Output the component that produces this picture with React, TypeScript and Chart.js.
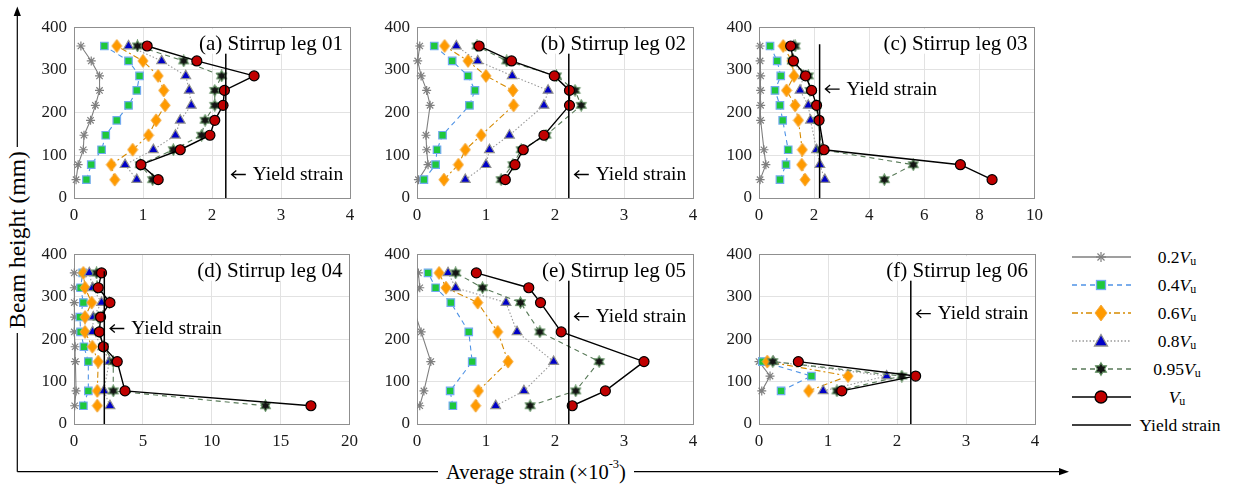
import React, { useEffect, useRef } from 'react';
import { Chart, registerables } from 'chart.js';

Chart.register(...registerables);

// ---------------- DATA ----------------
const HEIGHTS = [43, 78, 113, 147, 182, 217, 252, 286, 321, 356]; // mm, bottom to top
const SERIES_NAMES = ['0.2', '0.4', '0.6', '0.8', '0.95', ''];
const YIELD_STRAIN = 2.2;
const YIELD_TOP = 360;

// (a) Stirrup leg 01
const a_02 = [0.03, 0.06, 0.135, 0.145, 0.24, 0.31, 0.37, 0.37, 0.25, 0.1];
const a_04 = [0.18, 0.25, 0.4, 0.46, 0.62, 0.79, 0.91, 0.95, 0.79, 0.44];
const a_06 = [0.59, 0.54, 0.85, 1.08, 1.19, 1.32, 1.3, 1.22, 1.0, 0.62];
const a_08 = [0.91, 0.74, 1.15, 1.47, 1.54, 1.7, 1.67, 1.62, 1.27, 0.79];
const a_095 = [1.14, 0.96, 1.44, 1.85, 1.9, 2.04, 2.04, 2.14, 1.59, 0.92];
const a_vu = [1.22, 0.97, 1.54, 1.97, 2.04, 2.16, 2.18, 2.61, 1.78, 1.06];

// (b) Stirrup leg 02
const b_02 = [0.02, 0.16, 0.14, 0.13, null, 0.19, 0.14, 0.06, 0.01, 0.04];
const b_04 = [0.1, 0.27, 0.29, 0.37, null, 0.76, 0.84, 0.74, 0.51, 0.25];
const b_06 = [0.39, 0.6, 0.7, 0.93, null, 1.4, 1.39, 1.0, 0.74, 0.4];
const b_08 = [0.7, 1.0, 1.05, 1.34, null, 1.84, 1.9, 1.38, 0.88, 0.57];
const b_095 = [1.22, 1.39, 1.51, 1.87, null, 2.38, 2.29, 2.02, 1.3, 0.87];
const b_vu = [1.28, 1.42, 1.54, 1.84, null, 2.21, 2.21, 1.99, 1.37, 0.9];

// (c) Stirrup leg 03
const c_02 = [0.04, 0.25, 0.18, null, 0.06, 0.06, 0.06, 0.06, 0.04, 0.04];
const c_04 = [0.76, 0.98, 1.06, null, 0.86, 0.76, 0.58, 0.79, 0.66, 0.4];
const c_06 = [1.67, 1.55, 1.57, null, 1.43, 1.31, 1.0, 1.27, 1.19, 0.88];
const c_08 = [2.39, 2.21, 2.09, null, 1.87, 1.79, 1.49, 1.61, 1.22, 1.25];
const c_095 = [4.55, 5.6, 2.27, null, 2.15, 2.07, 1.85, 1.79, 1.21, 1.31];
const c_vu = [8.46, 7.31, 2.36, null, 2.18, 2.09, 1.91, 1.69, 1.25, 1.15];

// (d) Stirrup leg 04
const d_02 = [0.05, 0.15, null, 0.1, 0.08, 0.02, 0.05, 0.02, 0.02, 0.02];
const d_04 = [0.68, 1.04, null, 1.04, 0.72, 0.48, 0.43, 0.68, 0.48, 0.63];
const d_06 = [1.69, 1.69, null, 1.76, 1.33, 0.8, 0.8, 1.28, 0.8, 0.68];
const d_08 = [2.61, 2.17, null, 2.56, 2.08, 1.35, 1.4, 2.0, 1.35, 1.11];
const d_095 = [13.9, 2.85, null, 2.85, 2.13, 1.84, 1.76, 2.56, 1.69, 1.64];
const d_vu = [17.2, 3.7, null, 3.14, 2.13, 1.84, 1.93, 2.61, 1.76, 2.0];

// (e) Stirrup leg 05
const e_02 = [0.04, 0.1, null, 0.2, null, 0.06, null, -0.08, 0.04, 0.02];
const e_04 = [0.52, 0.48, null, 0.8, null, 0.75, null, 0.49, 0.27, 0.16];
const e_06 = [0.85, 0.89, null, 1.32, null, 1.17, null, 0.88, 0.42, 0.32];
const e_08 = [1.14, 1.55, null, 1.98, null, 1.45, null, 1.29, 0.56, 0.45];
const e_095 = [1.64, 2.3, null, 2.64, null, 1.78, null, 1.5, 0.95, 0.56];
const e_vu = [2.25, 2.73, null, 3.29, null, 2.09, null, 1.79, 1.62, 0.86];

// (f) Stirrup leg 06
const f_02 = [null, 0.04, 0.16, 0.0, null, null, null, null, null, null];
const f_04 = [null, 0.32, 0.76, 0.05, null, null, null, null, null, null];
const f_06 = [null, 0.72, 1.29, 0.12, null, null, null, null, null, null];
const f_08 = [null, 0.93, 1.85, 0.21, null, null, null, null, null, null];
const f_095 = [null, 1.13, 2.07, 0.2, null, null, null, null, null, null];
const f_vu = [null, 1.2, 2.27, 0.57, null, null, null, null, null, null];

const PANELS = [
  { title: '(a) Stirrup leg 01', xMax: 4, xStep: 1, annY: 55, series: [a_02, a_04, a_06, a_08, a_095, a_vu] },
  { title: '(b) Stirrup leg 02', xMax: 4, xStep: 1, annY: 55, series: [b_02, b_04, b_06, b_08, b_095, b_vu] },
  { title: '(c) Stirrup leg 03', xMax: 10, xStep: 2, annY: 255, series: [c_02, c_04, c_06, c_08, c_095, c_vu] },
  { title: '(d) Stirrup leg 04', xMax: 20, xStep: 5, annY: 225, series: [d_02, d_04, d_06, d_08, d_095, d_vu] },
  { title: '(e) Stirrup leg 05', xMax: 4, xStep: 1, annY: 253, series: [e_02, e_04, e_06, e_08, e_095, e_vu] },
  { title: '(f) Stirrup leg 06', xMax: 4, xStep: 1, annY: 260, series: [f_02, f_04, f_06, f_08, f_095, f_vu] },
];

// ---------------- LAYOUT / STYLE ----------------
const FONT = "'Liberation Serif', 'Times New Roman', serif";
const PLOT_W = 276;
const BOXES = [
  { l: 74, t: 25, h: 173 },
  { l: 417, t: 25, h: 173 },
  { l: 759, t: 25, h: 173 },
  { l: 74, t: 252, h: 172 },
  { l: 417, t: 252, h: 172 },
  { l: 759, t: 252, h: 172 },
];
const Y_AXIS_W = 60;
const X_AXIS_H = 30;
const PAD_T = 15;
const PAD_R = 15;
const GRID = '#e2e2e2';
const BOX_COLOR = '#8f8f8f';

const STYLES: any[] = [
  { line: '#7f7f7f', dash: [], width: 1.1, point: 'star', radius: 4.5, fill: '#7f7f7f', edge: '#7f7f7f', edgeW: 1.2 },
  { line: '#4f93e6', dash: [5, 4], width: 1.1, point: 'rect', radius: 5.3, fill: '#1ec83c', edge: '#72aaf0', edgeW: 1.2 },
  { line: '#d68a00', dash: [6, 3, 2, 3], width: 1.1, point: 'diamond', radius: 6, fill: '#ff9a00', edge: '#f3ad45', edgeW: 1 },
  { line: '#9a9a9a', dash: [1.5, 2], width: 1.1, point: 'triangle', radius: 5.6, fill: '#0000c8', edge: '#8e8e8e', edgeW: 1.2 },
  { line: '#587a58', dash: [5, 4], width: 1.1, point: 'hex', radius: 5.5, fill: '#141414', edge: '#5f8f5f', edgeW: 1.1 },
  { line: '#000000', dash: [], width: 1.4, point: 'circle', radius: 5, fill: '#c00000', edge: '#000000', edgeW: 1.2 },
];

function hexPts(cx: number, cy: number, R: number) {
  const r = R / Math.sqrt(3);
  const pts: number[][] = [];
  for (let k = 0; k < 12; k++) {
    const ang = -Math.PI / 2 + (k * Math.PI) / 6;
    const rr = k % 2 === 0 ? R : r;
    pts.push([cx + rr * Math.cos(ang), cy + rr * Math.sin(ang)]);
  }
  return pts;
}

function makeImg(w: number, h: number, draw: (c: CanvasRenderingContext2D) => void) {
  const cv = document.createElement('canvas');
  cv.width = w;
  cv.height = h;
  const c = cv.getContext('2d')!;
  draw(c);
  return cv;
}

function makeHexagram(st: any) {
  return makeImg(13, 13, (c) => {
    const pts = hexPts(6.5, 6.5, 5.6);
    c.beginPath();
    pts.forEach((p, i) => (i ? c.lineTo(p[0], p[1]) : c.moveTo(p[0], p[1])));
    c.closePath();
    c.fillStyle = st.fill;
    c.fill();
    c.strokeStyle = st.edge;
    c.lineWidth = st.edgeW;
    c.stroke();
  });
}

function makeDiamond(st: any) {
  return makeImg(12, 15, (c) => {
    c.beginPath();
    c.moveTo(6, 1);
    c.lineTo(11, 7.5);
    c.lineTo(6, 14);
    c.lineTo(1, 7.5);
    c.closePath();
    c.fillStyle = st.fill;
    c.fill();
    c.strokeStyle = st.edge;
    c.lineWidth = st.edgeW;
    c.stroke();
  });
}

function align(px: number) {
  return Math.round(px - 0.5) + 0.5;
}

const decorPlugin = {
  id: 'decor',
  beforeDatasetsDraw(chart: any) {
    const { ctx, chartArea: a } = chart;
    ctx.save();
    ctx.strokeStyle = BOX_COLOR;
    ctx.lineWidth = 1;
    const l = align(a.left), r = align(a.right), t = align(a.top), b = align(a.bottom);
    ctx.strokeRect(l, t, r - l, b - t);
    ctx.restore();
  },
  afterDatasetsDraw(chart: any, _args: any, opts: any) {
    const { ctx, chartArea: a, scales } = chart;
    ctx.save();
    // title with white background
    ctx.font = `21px ${FONT}`;
    const tw = ctx.measureText(opts.title).width;
    const tx = a.right - 7 - tw;
    const ty = a.top + 17.5;
    ctx.fillStyle = '#ffffff';
    ctx.fillRect(tx - 3, a.top + 2, tw + 6, ty + 9 - (a.top + 2));
    ctx.fillStyle = '#000000';
    ctx.textBaseline = 'middle';
    ctx.textAlign = 'left';
    ctx.fillText(opts.title, tx, ty);
    // yield strain annotation
    const ax = scales.x.getPixelForValue(YIELD_STRAIN) + 5;
    const ay = scales.y.getPixelForValue(opts.annY);
    ctx.strokeStyle = '#000000';
    ctx.lineWidth = 1.3;
    ctx.beginPath();
    ctx.moveTo(ax + 1, ay);
    ctx.lineTo(ax + 15, ay);
    ctx.moveTo(ax + 5.5, ay - 4);
    ctx.lineTo(ax + 0.8, ay);
    ctx.lineTo(ax + 5.5, ay + 4);
    ctx.stroke();
    ctx.font = `19.5px ${FONT}`;
    ctx.fillText('Yield strain', ax + 22, ay + 0.5);
    ctx.restore();
  },
};

function Panel({ p, box }: { p: any; box: any }) {
  const ref = useRef<HTMLCanvasElement>(null);
  const cw = PLOT_W + Y_AXIS_W + PAD_R;
  const ch = box.h + PAD_T + X_AXIS_H;
  useEffect(() => {
    const images: any = { hex: makeHexagram(STYLES[4]), diamond: makeDiamond(STYLES[2]) };
    const datasets: any[] = p.series.map((vals: (number | null)[], si: number) => {
      const st = STYLES[si];
      const data = HEIGHTS.map((h, i) => (vals[i] == null ? null : { x: vals[i], y: h })).filter(Boolean);
      const hasNeg = vals.some((v) => v != null && v < 0);
      return {
        label: SERIES_NAMES[si] + 'Vu',
        data,
        borderColor: st.line,
        borderWidth: st.width,
        borderDash: st.dash,
        pointStyle: images[st.point] || st.point,
        pointRadius: (c: any) => (c.raw && c.raw.x < 0 ? 0 : st.radius),
        pointBackgroundColor: st.fill,
        pointBorderColor: st.edge,
        pointBorderWidth: st.edgeW,
        fill: false,
        tension: 0,
        order: 7 - si,
        clip: { left: hasNeg ? 0 : 6, right: 6, top: 6, bottom: 6 },
      };
    });
    datasets.push({
      label: 'Yield strain',
      data: [
        { x: YIELD_STRAIN, y: 0 },
        { x: YIELD_STRAIN, y: YIELD_TOP },
      ],
      borderColor: '#000000',
      borderWidth: 1.5,
      pointRadius: 0,
      fill: false,
      order: 0,
    });
    const tickFont = { family: FONT, size: 17 };
    const chart = new Chart(ref.current!, {
      type: 'line',
      data: { datasets },
      options: {
        animation: false,
        responsive: false,
        maintainAspectRatio: false,
        layout: { padding: { left: 0, top: PAD_T, right: PAD_R, bottom: 0 } },
        plugins: {
          legend: { display: false },
          tooltip: { enabled: false },
          decor: { title: p.title, annY: p.annY },
        } as any,
        scales: {
          x: {
            type: 'linear',
            min: 0,
            max: p.xMax,
            ticks: { stepSize: p.xStep, font: tickFont, color: '#1a1a1a', padding: 7, maxRotation: 0, autoSkip: false },
            grid: { color: GRID, drawTicks: false, lineWidth: 1 },
            border: { display: false },
            afterFit: (s: any) => {
              s.height = X_AXIS_H;
            },
          },
          y: {
            type: 'linear',
            min: 0,
            max: 400,
            ticks: { stepSize: 100, font: tickFont, color: '#1a1a1a', padding: 7, autoSkip: false },
            grid: { color: GRID, drawTicks: false, lineWidth: 1 },
            border: { display: false },
            afterFit: (s: any) => {
              s.width = Y_AXIS_W;
            },
          },
        },
      } as any,
      plugins: [decorPlugin],
    });
    return () => chart.destroy();
  }, []);
  return (
    <canvas
      ref={ref}
      width={cw}
      height={ch}
      style={{ position: 'absolute', left: box.l - Y_AXIS_W, top: box.t - PAD_T, width: cw, height: ch }}
    />
  );
}

const LEGEND_ROWS = [257, 285, 313, 341, 369, 397, 425];
const LEG_X1 = 1072;
const LEG_X2 = 1131;
const LEG_MX = 1101;
const LEG_TX = 1177;

function LegendMarker({ si, y }: { si: number; y: number }) {
  const st = STYLES[si];
  const x = LEG_MX;
  if (st.point === 'star') {
    const r = 5;
    const d = r * Math.SQRT1_2;
    return (
      <g stroke={st.edge} strokeWidth={1.2}>
        <line x1={x - r} y1={y} x2={x + r} y2={y} />
        <line x1={x} y1={y - r} x2={x} y2={y + r} />
        <line x1={x - d} y1={y - d} x2={x + d} y2={y + d} />
        <line x1={x - d} y1={y + d} x2={x + d} y2={y - d} />
      </g>
    );
  }
  if (st.point === 'rect')
    return <rect x={x - 4.5} y={y - 4.5} width={9} height={9} fill={st.fill} stroke={st.edge} strokeWidth={1.3} />;
  if (st.point === 'diamond')
    return (
      <polygon
        points={`${x},${y - 8} ${x + 6},${y} ${x},${y + 8} ${x - 6},${y}`}
        fill={st.fill}
        stroke={st.edge}
        strokeWidth={1}
      />
    );
  if (st.point === 'triangle')
    return (
      <polygon
        points={`${x},${y - 6.5} ${x + 6.5},${y + 5} ${x - 6.5},${y + 5}`}
        fill={st.fill}
        stroke={st.edge}
        strokeWidth={1.3}
      />
    );
  if (st.point === 'hex')
    return (
      <polygon
        points={hexPts(x, y, 6.3)
          .map((p) => `${p[0]},${p[1]}`)
          .join(' ')}
        fill={st.fill}
        stroke={st.edge}
        strokeWidth={1.1}
      />
    );
  return <circle cx={x} cy={y} r={6} fill={st.fill} stroke={st.edge} strokeWidth={1.3} />;
}

function Overlay() {
  const ax = 17.3;
  const cornerY = 471.7;
  return (
    <svg
      width={1237}
      height={488}
      style={{ position: 'absolute', left: 0, top: 0, pointerEvents: 'none' }}
      fontFamily={FONT}
    >
      {/* vertical axis arrow */}
      <line x1={ax} y1={15} x2={ax} y2={147} stroke="#000" strokeWidth={1.2} />
      <line x1={ax} y1={333} x2={ax} y2={cornerY} stroke="#000" strokeWidth={1.2} />
      <polygon points={`${ax},6.5 ${ax - 3.6},16 ${ax + 3.6},16`} fill="#000" />
      <text
        x={ax}
        y={240}
        transform={`rotate(-90 ${ax} 240)`}
        textAnchor="middle"
        dominantBaseline="central"
        fontSize={23.5}
        fill="#000"
      >
        Beam height (mm)
      </text>
      {/* horizontal axis arrow */}
      <line x1={ax} y1={cornerY} x2={438} y2={cornerY} stroke="#000" strokeWidth={1.2} />
      <line x1={634} y1={cornerY} x2={1060} y2={cornerY} stroke="#000" strokeWidth={1.2} />
      <polygon points={`1069,${cornerY} 1059,${cornerY - 3.6} 1059,${cornerY + 3.6}`} fill="#000" />
      <text x={536} y={cornerY} textAnchor="middle" dominantBaseline="central" fontSize={20.5} fill="#000">
        Average strain (×10
        <tspan fontSize={12.5} dy={-8}>
          -3
        </tspan>
        <tspan dy={8}>)</tspan>
      </text>
      {/* legend */}
      {STYLES.map((st, si) => {
        const y = LEGEND_ROWS[si];
        return (
          <g key={si}>
            <line
              x1={LEG_X1}
              y1={y}
              x2={LEG_X2}
              y2={y}
              stroke={st.line}
              strokeWidth={si === 5 ? 1.6 : 1.3}
              strokeDasharray={st.dash.length ? st.dash.join(' ') : undefined}
            />
            <LegendMarker si={si} y={y} />
            <text x={LEG_TX} y={y} textAnchor="middle" dominantBaseline="central" fontSize={17.5} fill="#000">
              {SERIES_NAMES[si]}
              <tspan fontStyle="italic">V</tspan>
              <tspan fontSize={12} dy={4}>
                u
              </tspan>
            </text>
          </g>
        );
      })}
      <line x1={LEG_X1} y1={LEGEND_ROWS[6]} x2={LEG_X2} y2={LEGEND_ROWS[6]} stroke="#000" strokeWidth={1.6} />
      <text x={1180} y={LEGEND_ROWS[6]} textAnchor="middle" dominantBaseline="central" fontSize={17.5} fill="#000">
        Yield strain
      </text>
    </svg>
  );
}

export default function App() {
  return (
    <div style={{ position: 'absolute', left: 0, top: 0, width: 1237, height: 488, background: '#ffffff' }}>
      <Overlay />
      {PANELS.map((p, i) => (
        <Panel key={i} p={p} box={BOXES[i]} />
      ))}
    </div>
  );
}
